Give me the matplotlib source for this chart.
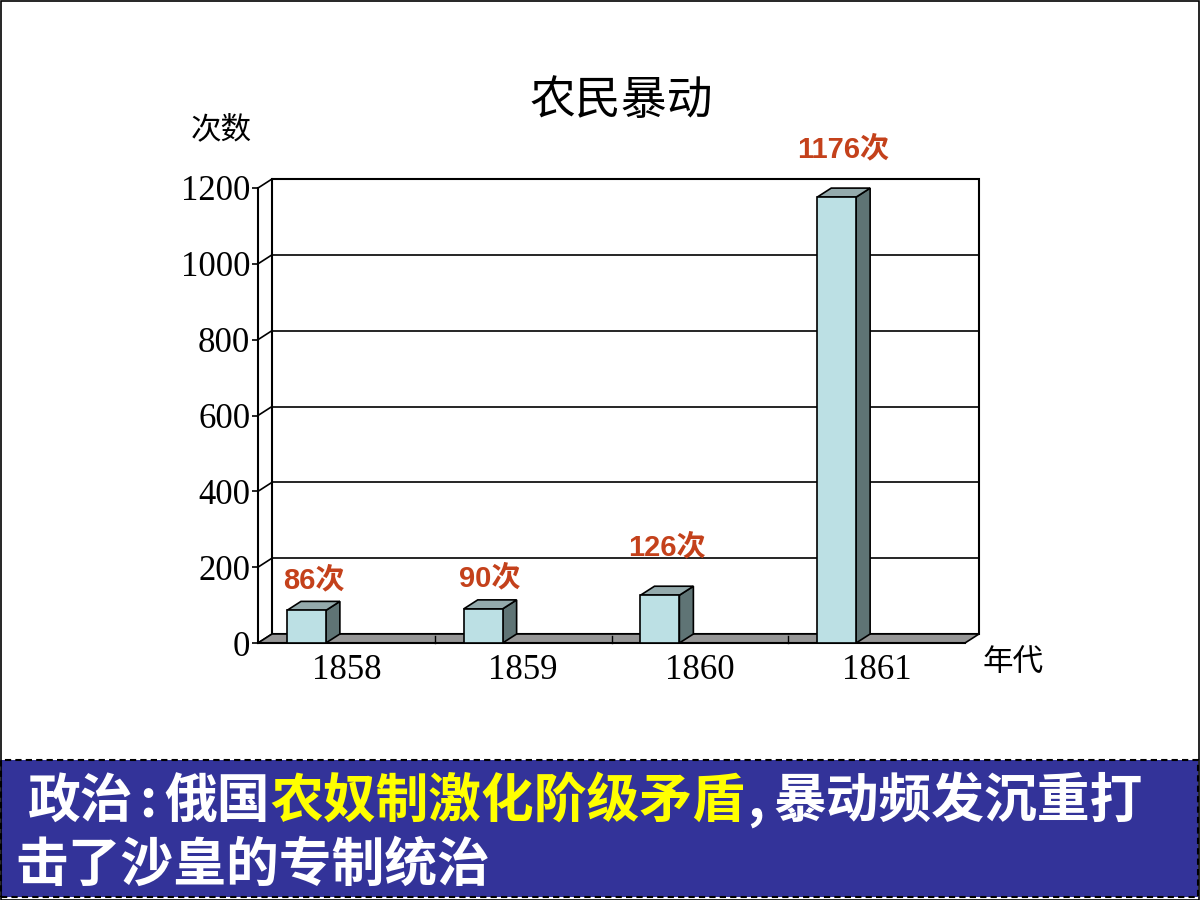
import numpy as np
import matplotlib
matplotlib.use("Agg")
import matplotlib.pyplot as plt
from matplotlib.patches import Rectangle, Polygon

years = ["1858", "1859", "1860", "1861"]
counts = [86, 90, 126, 1176]
value_labels = ["86次", "90次", "126次", "1176次"]
y_ticks = [0, 200, 400, 600, 800, 1000, 1200]

title = "农民暴动"
y_name = "次数"
x_name = "年代"
banner_line1 = [("政治", "white"), (":", "white"), ("俄国", "white"),
                ("农奴制激化阶级矛盾", "#ffff00"), (",", "white"), ("暴动频发沉重打", "white")]
banner_line2 = "击了沙皇的专制统治"

W, H = 1200, 900
fig = plt.figure(figsize=(12, 9), dpi=100)
fig.patch.set_facecolor("white")

# front plane of the 3d box in pixels
left_px, right_px, top_px, bot_px = 258, 965, 188, 643
ax = fig.add_axes([left_px / W, 1 - bot_px / H, (right_px - left_px) / W, (bot_px - top_px) / H])
ax.set_xlim(0, 4)
ax.set_ylim(0, 1200)
ax.patch.set_visible(False)

# depth offset (pixels -> data)
dx = 14 / (right_px - left_px) * 4
dy = 9 / (bot_px - top_px) * 1200

cjk = ["Noto Sans CJK SC", "DejaVu Sans"]
serif = ["Liberation Serif", "DejaVu Serif"]

# back wall + grid
ax.add_patch(Rectangle((dx, dy), 4, 1200, facecolor="white", edgecolor="black", lw=1.5, zorder=0, clip_on=False))
for v in y_ticks:
    if 0 < v < 1200:
        ax.plot([dx, 4 + dx], [v + dy, v + dy], color="black", lw=1.2, zorder=1, clip_on=False)
    ax.plot([0, dx], [v, v + dy], color="black", lw=1.2, zorder=1, clip_on=False)

# floor
ax.add_patch(Polygon([(0, 0), (4, 0), (4 + dx, dy), (dx, dy)], closed=True,
                     facecolor="#969696", edgecolor="black", lw=1.2, zorder=2, clip_on=False))
for i in range(1, 4):
    ax.plot([i, i], [0, dy * 0.8], color="black", lw=1, zorder=2, clip_on=False)

# bars
bw = 0.22
x0 = np.arange(4) + 0.164
ax.bar(x0, counts, width=bw, align="edge", color="#bce0e4", edgecolor="black", lw=1.2, zorder=4)
for xi, v, lab in zip(x0, counts, value_labels):
    ax.add_patch(Polygon([(xi + bw, 0), (xi + bw + dx, dy), (xi + bw + dx, v + dy), (xi + bw, v)],
                         closed=True, facecolor="#5f7475", edgecolor="black", lw=1.2, zorder=3, clip_on=False))
    ax.add_patch(Polygon([(xi, v), (xi + bw, v), (xi + bw + dx, v + dy), (xi + dx, v + dy)],
                         closed=True, facecolor="#94aaac", edgecolor="black", lw=1.2, zorder=3, clip_on=False))
    off = 21 if v < 100 else 39
    ax.annotate(lab, (xi + bw / 2 + dx / 2, v + dy), xytext=(0, off * 0.72), textcoords="offset points",
                ha="center", va="center", fontsize=21, fontweight="bold", color="#c4411b",
                family=["Liberation Sans", "Noto Sans CJK SC"], clip_on=False)

# axes styling
for s in ["top", "right"]:
    ax.spines[s].set_visible(False)
ax.spines["left"].set_linewidth(1.5)
ax.spines["bottom"].set_linewidth(1.5)
ax.set_yticks(y_ticks)
ax.set_yticklabels([str(v) for v in y_ticks], family=serif, fontsize=25)
ax.tick_params(axis="y", length=4, width=1.2, pad=1.5)
ax.set_xticks(np.arange(4) + 0.5)
ax.set_xticklabels(years, family=serif, fontsize=25)
ax.tick_params(axis="x", length=0, pad=8)

# titles
fig.text(621 / W, 1 - 101 / H, title, ha="center", va="center", fontsize=33, family=cjk)
fig.text(221 / W, 1 - 130 / H, y_name, ha="center", va="center", fontsize=22, family=cjk)
fig.text(1013 / W, 1 - 663 / H, x_name, ha="center", va="center", fontsize=22, family=cjk)

# bottom banner
fig.add_artist(Rectangle((1 / W, 3 / H), 1 - 3 / W, (897 - 760) / H, transform=fig.transFigure,
                         facecolor="#333399", edgecolor="black", lw=1.5, linestyle=(0, (3, 2))))
renderer = fig.canvas.get_renderer()
gaps = {":": (6, 8), ",": (2, 9)}
x = 28 / W
for s, c in banner_line1:
    before, after = gaps.get(s, (0, 0))
    x += before / W
    t = fig.text(x, 1 - 801 / H, s, color=c, ha="left", va="center", fontsize=38,
                 fontweight="bold", family=cjk)
    x += (t.get_window_extent(renderer).width + after) / W
fig.text(15 / W, 1 - 865 / H, banner_line2, color="white", ha="left", va="center", fontsize=38,
         fontweight="bold", family=cjk)

# slide border
fig.add_artist(Rectangle((0.5 / W, 0.5 / H), 1 - 1.5 / W, 1 - 1.5 / H, transform=fig.transFigure,
                         fill=False, edgecolor="black", lw=1.2))

fig.savefig("out.png", dpi=100)
